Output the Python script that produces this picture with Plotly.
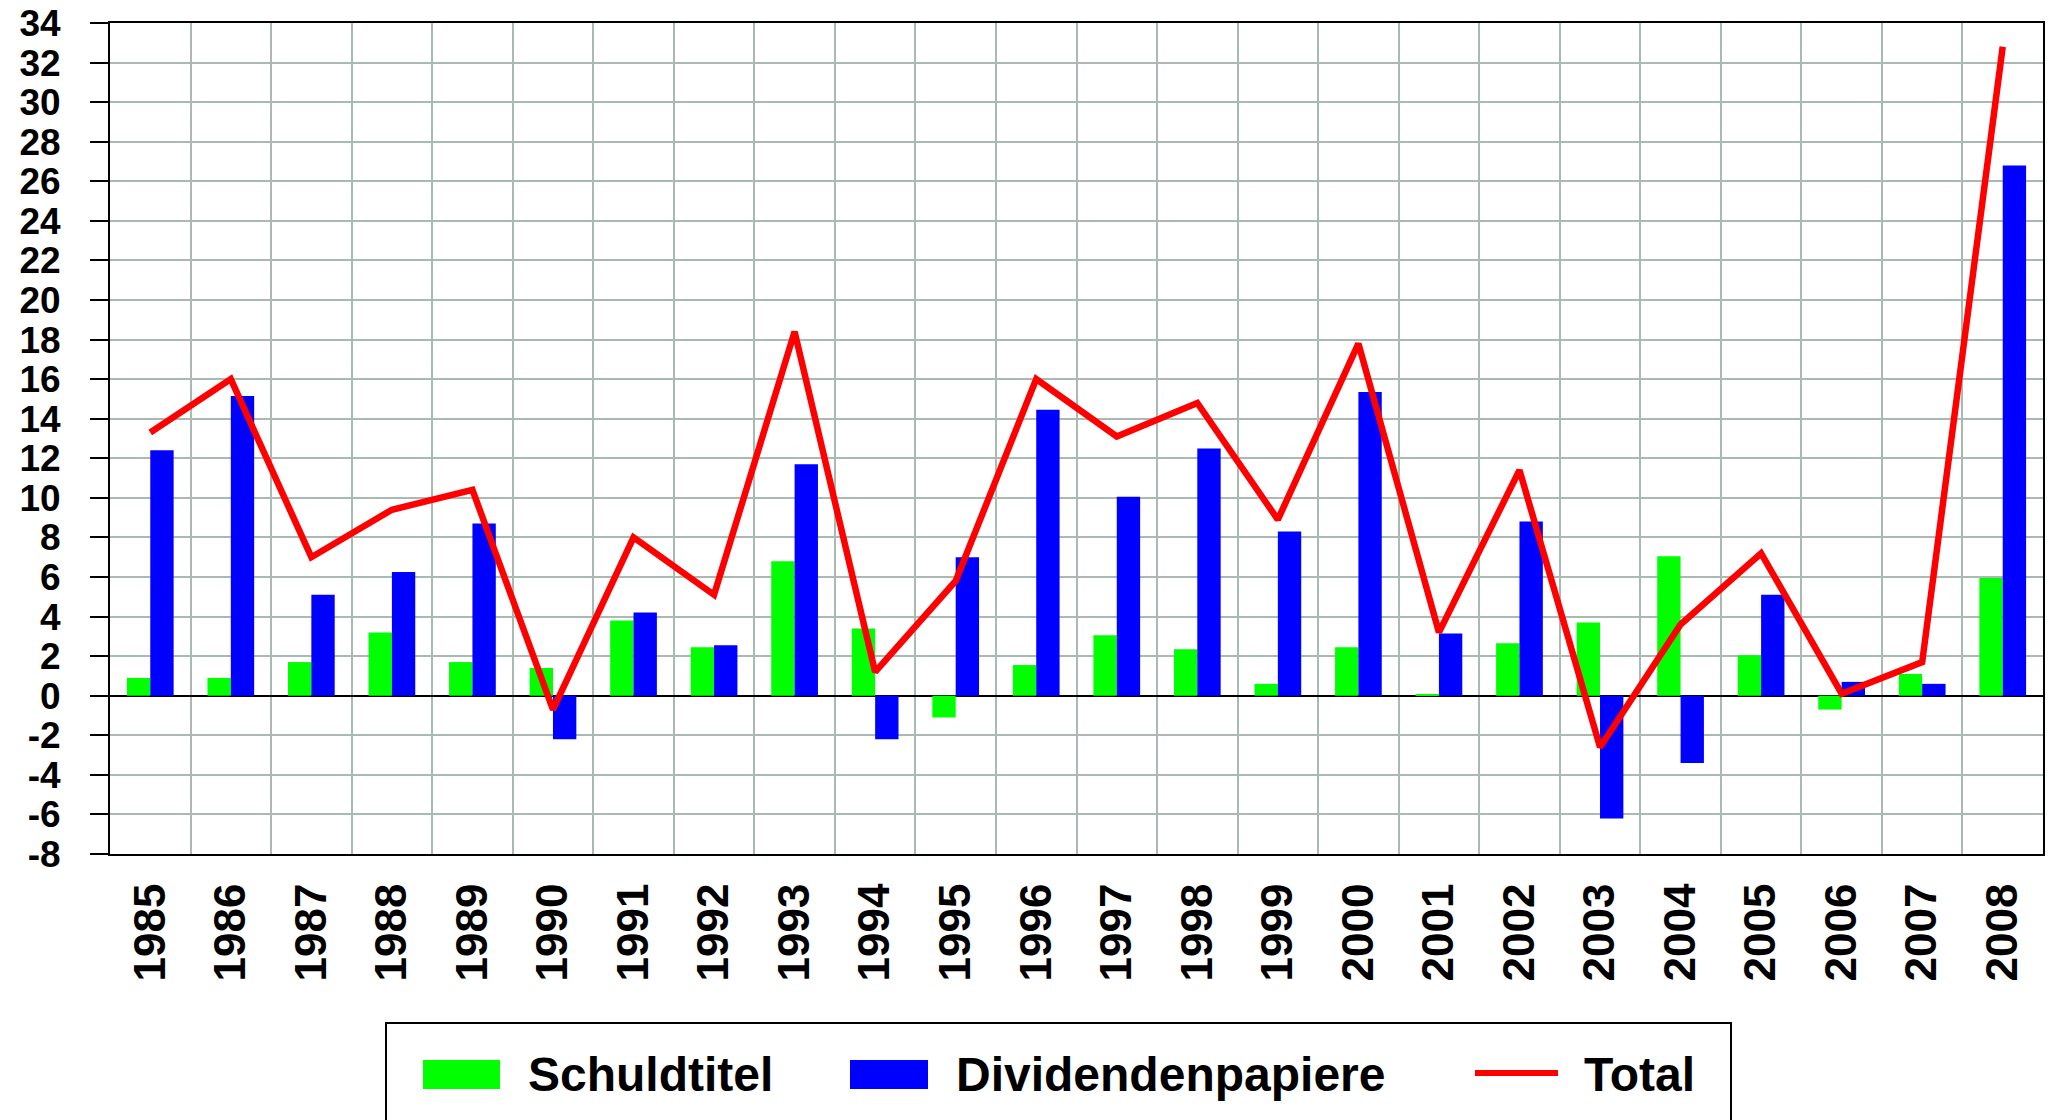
import plotly.graph_objects as go

# ---------------- data ----------------
years = ['1985', '1986', '1987', '1988', '1989', '1990', '1991', '1992',
         '1993', '1994', '1995', '1996', '1997', '1998', '1999', '2000',
         '2001', '2002', '2003', '2004', '2005', '2006', '2007', '2008']
schuldtitel = [0.9, 0.9, 1.7, 3.2, 1.7, 1.4, 3.8, 2.45, 6.8, 3.4, -1.1, 1.55,
               3.05, 2.35, 0.6, 2.45, 0.05, 2.65, 3.7, 7.05, 2.05, -0.7, 1.1, 5.95]
dividendenpapiere = [12.4, 15.15, 5.1, 6.25, 8.7, -2.2, 4.2, 2.55, 11.7, -2.2, 7.0, 14.45,
                     10.05, 12.5, 8.3, 15.35, 3.15, 8.8, -6.2, -3.4, 5.1, 0.7, 0.6, 26.8]
total = [13.3, 16.0, 7.0, 9.4, 10.4, -0.7, 8.0, 5.1, 18.4, 1.2, 5.8, 16.0,
         13.1, 14.8, 8.9, 17.8, 3.2, 11.4, -2.6, 3.6, 7.2, 0.1, 1.7, 32.8]
series_names = ['Schuldtitel', 'Dividendenpapiere', 'Total']
y_ticks = [-8, -6, -4, -2, 0, 2, 4, 6, 8, 10, 12, 14, 16, 18, 20, 22, 24, 26,
           28, 30, 32, 34]

# ---------------- style ----------------
GREEN = '#00FF00'
BLUE = '#0000FF'
RED = '#FF0000'
GRID = '#AABAB2'
FONT = 'Arial, Liberation Sans, sans-serif'

W, H = 2052, 1120
PL, PR, PT, PB = 110, 2043, 23, 854          # plot area edges (page px)
L, T, R, B = PL, PT, W - PR, H - PB


def px(xp):
    return (xp - PL) / (PR - PL)


def py(yp):
    return (PB - yp) / (PB - PT)


y_min, y_max = y_ticks[0], y_ticks[-1]

fig = go.Figure()
fig.add_trace(go.Bar(x=years, y=schuldtitel, name=series_names[0],
                     marker=dict(color=GREEN, line=dict(width=0)), showlegend=False))
fig.add_trace(go.Bar(x=years, y=dividendenpapiere, name=series_names[1],
                     marker=dict(color=BLUE, line=dict(width=0)), showlegend=False))
fig.add_trace(go.Scatter(x=years, y=total, name=series_names[2], mode='lines',
                         line=dict(color=RED, width=6.5), showlegend=False))

zero_pos = (0 - y_min) / (y_max - y_min)

fig.update_layout(
    width=W, height=H,
    margin=dict(l=L, r=R, t=T, b=B, pad=0, autoexpand=False),
    paper_bgcolor='white', plot_bgcolor='white',
    barmode='group', bargap=0.42, bargroupgap=0,
    showlegend=False,
    xaxis=dict(
        type='category', range=[-0.5, len(years) - 0.5], automargin=False,
        tickson='boundaries', ticks='', showgrid=True, gridcolor=GRID, gridwidth=2,
        showline=True, linecolor='black', linewidth=2, mirror=True,
        tickangle=-90, tickfont=dict(family=FONT, size=44, color='black', weight='bold'),
        ticklabelstandoff=10, zeroline=False,
    ),
    xaxis2=dict(
        overlaying='x', anchor='free', position=zero_pos, type='linear',
        range=[-0.5, len(years) - 0.5], tickmode='linear', tick0=0.5, dtick=1,
        ticks='outside', ticklen=14, tickwidth=2, tickcolor='black', automargin=False,
        showticklabels=False, showgrid=False, zeroline=False, showline=False,
    ),
    xaxis3=dict(
        overlaying='x', anchor='free', position=zero_pos, type='linear',
        range=[-0.5, len(years) - 0.5], tickmode='linear', tick0=0.5, dtick=1,
        ticks='inside', ticklen=14, tickwidth=2, tickcolor='black', automargin=False,
        showticklabels=False, showgrid=False, zeroline=False, showline=False,
    ),
    yaxis=dict(
        range=[y_min, y_max], tickmode='array', tickvals=y_ticks,
        ticktext=[str(v) for v in y_ticks], automargin=False,
        ticks='outside', ticklen=18, tickwidth=2, tickcolor='black',
        showline=True, linecolor='black', linewidth=2, mirror=True,
        showgrid=True, gridcolor=GRID, gridwidth=2,
        zeroline=True, zerolinecolor='black', zerolinewidth=2,
        tickfont=dict(family=FONT, size=37, color='black', weight='bold'),
        ticklabelstandoff=22, ticklabeloverflow='allow',
    ),
    yaxis2=dict(
        overlaying='y', anchor='x', side='left', automargin=False,
        range=[y_min, y_max], tickmode='array', tickvals=y_ticks,
        ticks='inside', ticklen=18, tickwidth=2, tickcolor='black',
        showticklabels=False, showgrid=False, zeroline=False, showline=False,
    ),
)

# ---------------- legend (drawn manually to match the large swatches) ----------------
legend_font = dict(family=FONT, size=48, color='black', weight='bold')
shapes = [
    dict(type='rect', xref='paper', yref='paper', x0=px(386), x1=px(1731),
         y0=py(1140), y1=py(1023), line=dict(color='black', width=2),
         fillcolor='white', layer='above'),
    dict(type='rect', xref='paper', yref='paper', x0=px(423), x1=px(500),
         y0=py(1089), y1=py(1060), line=dict(width=0), fillcolor=GREEN, layer='above'),
    dict(type='rect', xref='paper', yref='paper', x0=px(850), x1=px(928),
         y0=py(1089), y1=py(1060), line=dict(width=0), fillcolor=BLUE, layer='above'),
    dict(type='line', xref='paper', yref='paper', x0=px(1475), x1=px(1558),
         y0=py(1073), y1=py(1073), line=dict(color=RED, width=6), layer='above'),
]
annotations = [
    dict(text=series_names[0], x=px(527), y=py(1074)),
    dict(text=series_names[1], x=px(955), y=py(1074)),
    dict(text=series_names[2], x=px(1583), y=py(1074)),
]
for a in annotations:
    a.update(xref='paper', yref='paper', xanchor='left', yanchor='middle',
             showarrow=False, font=legend_font, borderpad=0)

fig.update_layout(shapes=shapes, annotations=annotations)

fig.write_html('out.html', config={'displayModeBar': False},
               post_script="document.body.style.margin='0';document.body.style.overflow='hidden';")
